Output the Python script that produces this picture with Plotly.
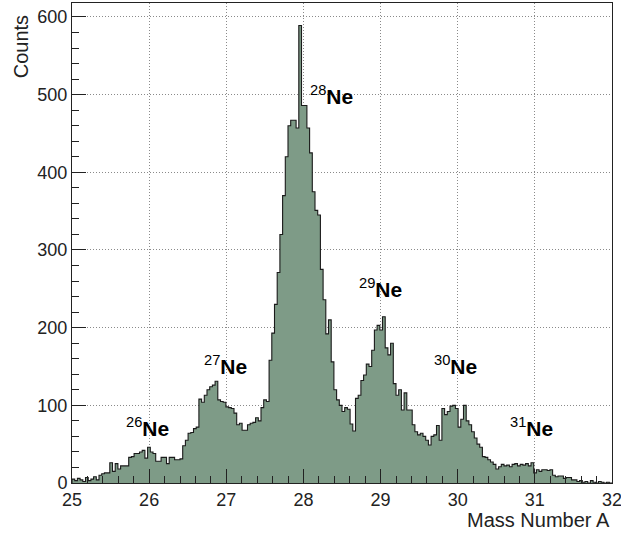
import numpy as np
import plotly.graph_objects as go

# histogram: 200 bins from A = 25 to 32
x_min, x_max, n_bins = 25.0, 32.0, 200
counts = [
    5, 3, 6, 4, 2, 7, 3, 5, 8, 4,
    10, 12, 13, 13, 26, 15, 25, 18, 22, 22,
    22, 33, 34, 38, 38, 40, 42, 32, 46, 40,
    38, 28, 28, 33, 33, 25, 33, 33, 30, 30,
    31, 48, 55, 64, 65, 70, 72, 108, 104, 113,
    120, 124, 126, 131, 107, 105, 104, 98, 97, 96,
    90, 75, 77, 68, 68, 75, 77, 78, 84, 80,
    97, 107, 105, 158, 193, 230, 271, 320, 370, 420,
    460, 467, 467, 457, 589, 486, 486, 457, 425, 375,
    351, 345, 275, 236, 192, 210, 156, 120, 107, 100,
    92, 97, 95, 76, 67, 109, 113, 132, 139, 153,
    150, 171, 197, 203, 197, 214, 174, 165, 180, 128,
    113, 120, 94, 116, 94, 94, 75, 66, 62, 64,
    60, 55, 49, 60, 62, 74, 55, 96, 88, 92,
    99, 100, 96, 72, 82, 100, 80, 75, 66, 58,
    50, 46, 34, 33, 30, 27, 24, 18, 21, 24,
    22, 23, 21, 24, 25, 22, 24, 23, 25, 22,
    26, 13, 17, 15, 17, 17, 16, 17, 10, 8,
    9, 9, 6, 7, 7, 4, 4, 2, 3, 1,
    2, 0, 3, 1, 0, 2, 1, 0, 1, 0,
]

# isotope labels
iso_mass = ['26', '27', '28', '29', '30', '31']
label_x = [25.98, 26.99, 28.36, 29.0, 29.97, 30.96]
label_y = [72, 152, 500, 251, 152, 72]

edges = np.linspace(x_min, x_max, n_bins + 1)
step_x = list(edges[:-1]) + [edges[-1]]
step_y = counts + [counts[-1]]

font = 'Liberation Sans, Arial, sans-serif'

fig = go.Figure()
fig.add_trace(go.Scatter(
    x=[x_min] + step_x + [x_max],
    y=[0] + step_y + [0],
    mode='lines',
    line={'shape': 'hv', 'color': '#1a1a1a', 'width': 1.1},
    fill='tozeroy',
    fillcolor='#7e9b87',
    hoverinfo='skip',
    showlegend=False))

for m, lx, ly in zip(iso_mass, label_x, label_y):
    fig.add_annotation(
        x=lx, y=ly, xref='x', yref='y',
        text=f'<sup>{m}</sup><b>Ne</b>',
        showarrow=False,
        font={'family': font, 'size': 21, 'color': 'black'})

fig.add_annotation(
    x=1.0, y=-0.077, xref='paper', yref='paper',
    xanchor='right', yanchor='middle',
    text='Mass Number A', showarrow=False,
    font={'family': font, 'size': 20, 'color': '#222'})
fig.add_annotation(
    x=-0.094, y=0.978, xref='paper', yref='paper',
    xanchor='center', yanchor='top', textangle=-90,
    text='Counts', showarrow=False,
    font={'family': font, 'size': 20, 'color': '#222'})

axis_common = dict(
    showline=True, linecolor='#222', linewidth=1, mirror=True,
    showgrid=True, gridcolor='#8a8a8a', griddash='1px,2px', gridwidth=1,
    zeroline=False, ticks='inside', tickcolor='#222', tickwidth=1,
    automargin=False, ticklabeloverflow='allow',
    tickfont={'family': font, 'size': 18, 'color': '#222'})

fig.update_xaxes(
    range=[x_min, x_max], dtick=1, tick0=25, ticklen=14,
    minor={'dtick': 0.2, 'ticks': 'inside', 'ticklen': 7,
           'tickcolor': '#222', 'showgrid': False},
    **axis_common)
fig.update_yaxes(
    range=[0, 618], dtick=100, tick0=0, ticklen=14,
    minor={'dtick': 20, 'ticks': 'inside', 'ticklen': 7,
           'tickcolor': '#222', 'showgrid': False},
    **axis_common)

fig.update_layout(
    width=621, height=533,
    margin={'l': 72, 'r': 9, 't': 3, 'b': 50},
    plot_bgcolor='white', paper_bgcolor='white')

# page body has an 8px default margin; drop it so the figure fills the window
fig.write_html('out.html', config={'displayModeBar': False},
               post_script="document.body.style.margin='0';")
